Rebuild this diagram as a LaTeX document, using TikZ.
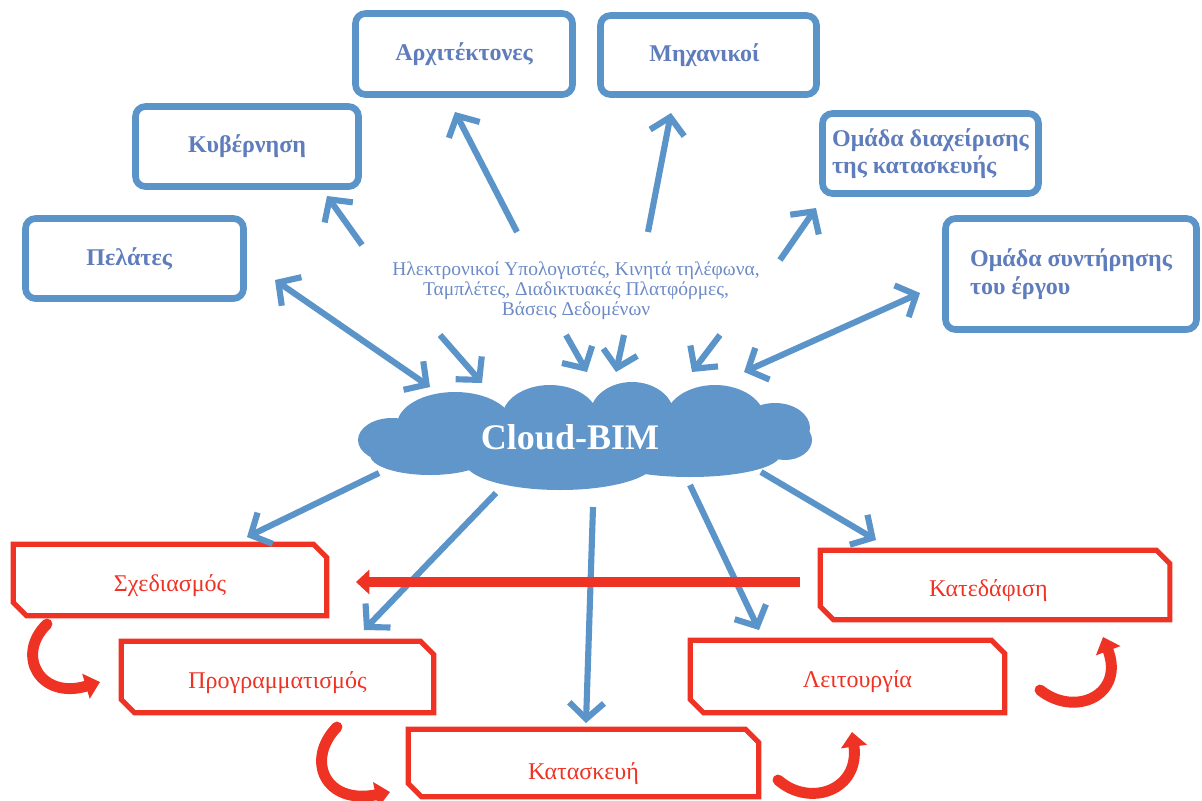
\documentclass[tikz,border=0pt]{standalone}
\usepackage{fontspec}
\setmainfont{Liberation Serif}
\usetikzlibrary{arrows.meta,calc}

\definecolor{bimblue}{RGB}{91,148,201}
\definecolor{cloudblue}{RGB}{96,150,202}
\definecolor{labelblue}{RGB}{95,125,188}
\definecolor{notesblue}{RGB}{108,138,198}
\definecolor{phasered}{RGB}{238,50,36}

\tikzset{
  actor/.style={draw=bimblue, line width=5pt, rounded corners=7.5pt, fill=white,
    text=labelblue, inner sep=0pt,
    font=\fontsize{18}{20.5}\selectfont\bfseries},
  phase/.style={inner sep=0pt, text=phasered, font=\fontsize{18}{20}\selectfont,
    text height=17pt, text depth=0pt},
  barb/.tip={Straight Barb[length=12pt,width=26pt]},
  link/.style={draw=bimblue, line width=4.6pt, -barb},
  dlink/.style={draw=bimblue, line width=4.6pt, barb-barb},
  loop arrow/.style={draw=phasered, line width=7.8pt, -{Triangle[length=10pt,width=18pt]}},
  cycle arrow/.style={draw=phasered, line width=8.2pt, line cap=round,
    -{Triangle[length=11pt,width=19pt]}},
  puff/.style={fill=cloudblue, draw=none},
}

% chamfered frame (top-right and bottom-left corners cut) around a phase node
\newcommand\phaseframe[1]{%
  \draw[phasered, line width=3.8pt, line join=miter]
    (#1.north west) -- ([xshift=-10pt]#1.north east) -- ([yshift=-10pt]#1.north east)
    -- (#1.south east) -- ([xshift=10pt]#1.south west) -- ([yshift=10pt]#1.south west)
    -- cycle;}

\begin{document}
\begin{tikzpicture}[x=0.75pt, y=-0.75pt]
\useasboundingbox (0,0) rectangle (1202,800);

% ---- stakeholders ----
\node[actor, minimum width=218*0.75pt, minimum height=80*0.75pt] (pel) at (134.5,258.5) {Πελάτες\hspace*{8pt}};
\node[actor, minimum width=223*0.75pt, minimum height=80*0.75pt] (kyv) at (247,146.5) {Κυβέρνηση};
\node[actor, minimum width=217*0.75pt, minimum height=81*0.75pt] (arch) at (464,54) {Αρχιτέκτονες};
\node[actor, minimum width=216*0.75pt, minimum height=79*0.75pt] (mech) at (708.5,55) {Μηχανικοί\hspace*{6pt}};
\node[actor, minimum width=216*0.75pt, minimum height=80*0.75pt, align=left] (mgmt) at (930.5,153.5)
  {Ομάδα διαχείρισης\\της κατασκευής};
\node[actor, minimum width=251*0.75pt, minimum height=111*0.75pt, align=left] (maint) at (1071,274)
  {Ομάδα συντήρησης\\του έργου};

% ---- devices ----
\node[text=notesblue, align=center, inner sep=0pt,
  font=\fontsize{14.6}{15}\selectfont] (dev) at (576,291)
  {Ηλεκτρονικοί Υπολογιστές, Κινητά τηλέφωνα,\\Ταμπλέτες, Διαδικτυακές Πλατφόρμες,\\Βάσεις Δεδομένων};

% ---- cloud ----
\fill[puff] (392,440) ellipse [x radius=34, y radius=22];
\fill[puff] (455,425) ellipse [x radius=58, y radius=33];
\fill[puff] (550,418) ellipse [x radius=48, y radius=33];
\fill[puff] (632,415) ellipse [x radius=42, y radius=33];
\fill[puff] (715,420) ellipse [x radius=50, y radius=35];
\fill[puff] (775,428) ellipse [x radius=35, y radius=25];
\fill[puff] (785,440) ellipse [x radius=27, y radius=20];
\fill[puff] (430,455) ellipse [x radius=60, y radius=20];
\fill[puff] (560,462) ellipse [x radius=95, y radius=28];
\fill[puff] (690,455) ellipse [x radius=90, y radius=22];
\fill[puff] (585,440) ellipse [x radius=200, y radius=25];
\node[text=white, font=\fontsize{27}{30}\selectfont\bfseries] (cloud) at (570,437) {Cloud-BIM};

% ---- phases ----
\node[phase, minimum width=313*0.75pt, minimum height=71*0.75pt] (design) at (170,580) {Σχεδιασμός};
\node[phase, minimum width=312*0.75pt, minimum height=71*0.75pt] (plan) at (277.5,677) {Προγραμματισμός};
\node[phase, minimum width=350*0.75pt, minimum height=67*0.75pt, text height=24pt] (build) at (583.5,763) {Κατασκευή};
\node[phase, minimum width=314*0.75pt, minimum height=72*0.75pt] (oper) at (847.5,676.5) {\hspace*{15pt}Λειτουργία};
\node[phase, minimum width=349*0.75pt, minimum height=69*0.75pt] (demol) at (995,585) {Κατεδάφιση\hspace*{10pt}};
\phaseframe{design}
\phaseframe{plan}
\phaseframe{build}
\phaseframe{oper}
\phaseframe{demol}

% ---- arrow end points ----
\coordinate (kyvS) at (362,245);  \coordinate (kyvT) at (327,196);
\coordinate (archS) at (517,232); \coordinate (archT) at (455,112);
\coordinate (mechS) at (648,232); \coordinate (mechT) at (671,113);
\coordinate (mgmtS) at (780,260); \coordinate (mgmtT) at (816,208);
\coordinate (pelA) at (275,280);  \coordinate (pelB) at (430,387);
\coordinate (maintA) at (744,372); \coordinate (maintB) at (920,293);
\coordinate (in1S) at (440,335); \coordinate (in1T) at (482,383);
\coordinate (in2S) at (566,335); \coordinate (in2T) at (587,372);
\coordinate (in3S) at (624,335); \coordinate (in3T) at (616,372);
\coordinate (in4S) at (720,335); \coordinate (in4T) at (692,372);
\coordinate (designS) at (379,473); \coordinate (designT) at (247,537);
\coordinate (planS) at (496,493);   \coordinate (planT) at (364,630);
\coordinate (buildS) at (593,507);  \coordinate (buildT) at (586,723);
\coordinate (operS) at (690,485);   \coordinate (operT) at (759,630);
\coordinate (demolS) at (761,472);  \coordinate (demolT) at (876,540);
\coordinate (loopS) at (800,582);   \coordinate (loopT) at (356,582);

% ---- data links ----
\draw[link] (kyvS) -- (kyvT);
\draw[link] (archS) -- (archT);
\draw[link] (mechS) -- (mechT);
\draw[link] (mgmtS) -- (mgmtT);
\draw[dlink] (pelA) -- (pelB);
\draw[dlink] (maintA) -- (maintB);
\draw[link] (in1S) -- (in1T);
\draw[link] (in2S) -- (in2T);
\draw[link] (in3S) -- (in3T);
\draw[link] (in4S) -- (in4T);
\draw[link] (designS) -- (designT);
\draw[link] (planS) -- (planT);
\draw[link] (buildS) -- (buildT);
\draw[link] (operS) -- (operT);
\draw[link] (demolS) -- (demolT);

% ---- life-cycle arrows ----
\draw[loop arrow] (loopS) -- (loopT);
\coordinate (c1S) at (47,624);   \coordinate (c1T) at (100,682);
\coordinate (c2S) at (337,727);  \coordinate (c2T) at (390,792);
\coordinate (c3S) at (778,780);  \coordinate (c3T) at (852,732);
\coordinate (c4S) at (1040,690); \coordinate (c4T) at (1103,637);
\draw[cycle arrow] (c1S) .. controls (15,655) and (40,700) .. (c1T);
\draw[cycle arrow] (c2S) .. controls (305,760) and (325,805) .. (c2T);
\draw[cycle arrow] (c3S) .. controls (810,808) and (860,790) .. (c3T);
\draw[cycle arrow] (c4S) .. controls (1075,718) and (1125,695) .. (c4T);
\end{tikzpicture}
\end{document}
